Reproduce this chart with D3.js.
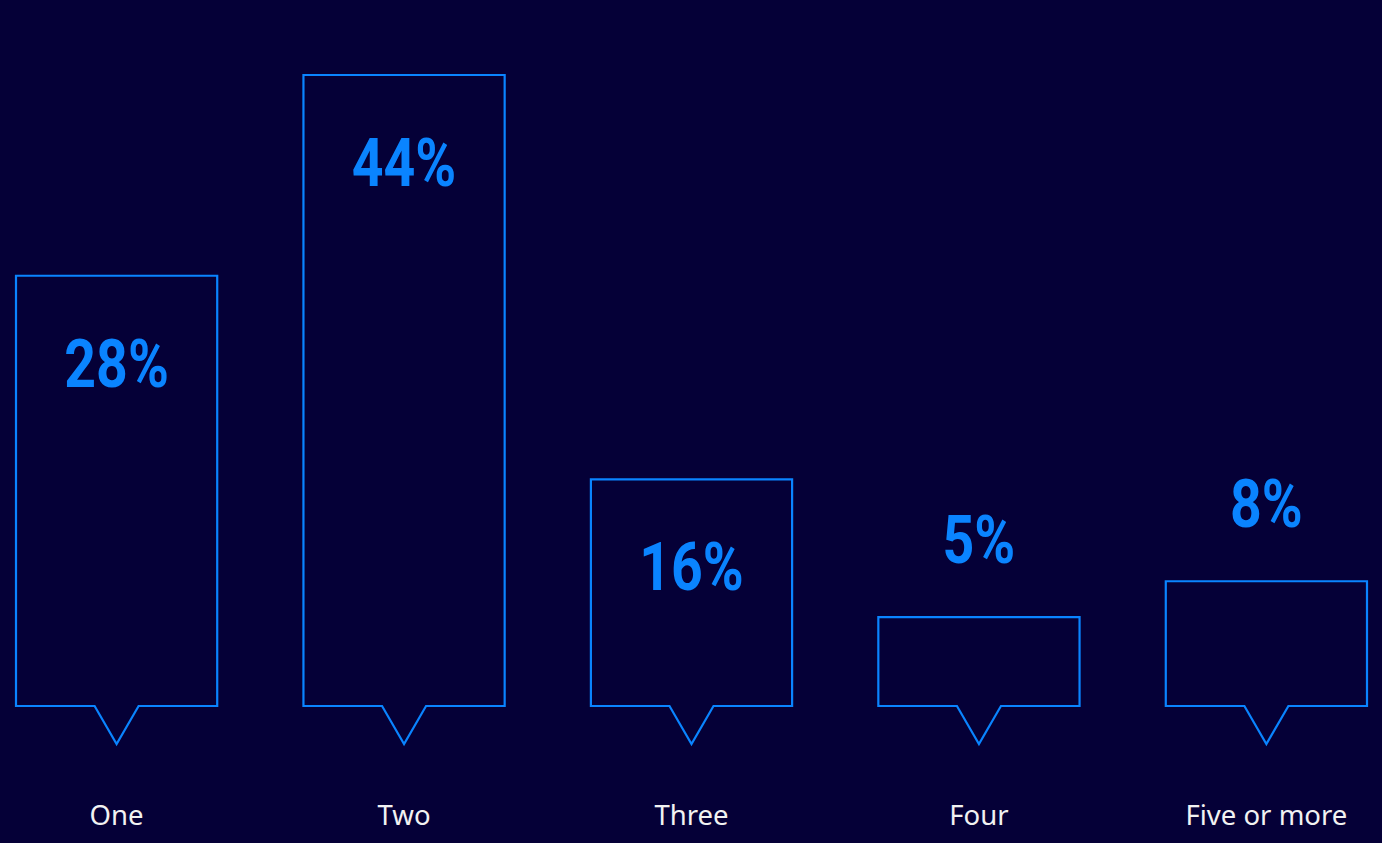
<!DOCTYPE html>
<html>
<head>
<meta charset="utf-8">
<script src="https://cdn.jsdelivr.net/npm/d3@7"></script>
<style>
  html, body { margin: 0; padding: 0; background: #050037; }
  svg { display: block; }
</style>
</head>
<body>
<script>
// categories and the percentages printed on each bar
const categories = ["One", "Two", "Three", "Four", "Five or more"];
const labels = [28, 44, 16, 5, 8];
// bar sizes (bars are not drawn strictly to the printed value)
const shares = [30, 44, 15.8, 6.2, 8.7];

const width = 1382, height = 843;
const baseline = 706;
const blue = "#0a84ff";

const svg = d3.select("body").append("svg")
    .attr("width", width)
    .attr("height", height);

const x = d3.scaleBand()
    .domain(categories)
    .range([16, 1367])
    .paddingInner(0.3)
    .paddingOuter(0);

const y = d3.scaleLinear()
    .domain([0, 44])
    .range([baseline, 75]);

const data = categories.map((c, i) => ({ cat: c, label: labels[i], share: shares[i] }));

// outline with a small pointer under the middle
function callout(d) {
    const x0 = x(d.cat), x1 = x0 + x.bandwidth(), cx = x0 + x.bandwidth() / 2;
    const top = y(d.share);
    return `M${cx - 22},${baseline} L${x0},${baseline} L${x0},${top} L${x1},${top} L${x1},${baseline} L${cx + 22},${baseline} L${cx},${baseline + 38} Z`;
}

const g = svg.append("g");

g.selectAll("path.bar")
    .data(data)
    .enter()
    .append("path")
    .attr("class", "bar")
    .attr("d", callout)
    .attr("fill", "none")
    .attr("stroke", blue)
    .attr("stroke-width", 2.2)
    .attr("stroke-linejoin", "miter");

// condensed look: squeeze Roboto bold horizontally
g.selectAll("text.value")
    .data(data)
    .enter()
    .append("text")
    .attr("class", "value")
    .attr("transform", d => {
        const top = y(d.share);
        const ty = baseline - top > 200 ? top + 111 : top - 54;
        return `translate(${x(d.cat) + x.bandwidth() / 2},${ty}) scale(0.84,1)`;
    })
    .attr("text-anchor", "middle")
    .attr("fill", blue)
    .attr("font-family", "Roboto, sans-serif")
    .attr("font-weight", "bold")
    .attr("font-size", 66)
    .text(d => d.label + "%");

g.selectAll("text.cat")
    .data(data)
    .enter()
    .append("text")
    .attr("class", "cat")
    .attr("x", d => x(d.cat) + x.bandwidth() / 2)
    .attr("y", 825)
    .attr("text-anchor", "middle")
    .attr("fill", "#f2f2f2")
    .attr("font-family", "'Noto Sans', 'Open Sans', sans-serif")
    .attr("font-size", 27.5)
    .text(d => d.cat);
</script>
</body>
</html>
